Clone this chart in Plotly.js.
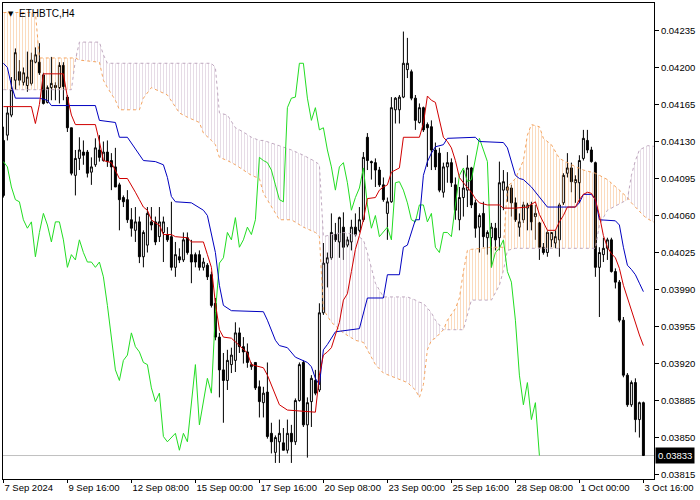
<!DOCTYPE html>
<html><head><meta charset="utf-8">
<script src="https://cdn.plot.ly/plotly-3.0.1.min.js"></script>
<style>html,body{margin:0;padding:0;background:#fff}#chart{width:700px;height:500px}</style>
</head><body><div id="chart"></div>
<script>
const symbolTitle = 'ETHBTC,H4';

const openP = [0.04131,0.04136,0.04155,0.04188,0.04196,0.04186,0.04183,0.04185,0.04205,0.04205,
0.04193,0.04167,0.04181,0.04183,0.04181,0.04202,0.04172,0.04143,0.04098,0.04114,
0.04120,0.04120,0.04101,0.04108,0.04122,0.04112,0.04120,0.04112,0.04106,0.04089,
0.04077,0.04075,0.04056,0.04046,0.04054,0.04021,0.04032,0.04054,0.04054,0.04040,
0.04044,0.04042,0.04040,0.04011,0.04021,0.04018,0.04039,0.04023,0.04023,0.04023,
0.04011,0.04013,0.04004,0.03977,0.03945,0.03914,0.03904,0.03919,0.03923,0.03949,
0.03936,0.03931,0.03917,0.03921,0.03898,0.03883,0.03893,0.03854,0.03836,0.03846,
0.03845,0.03838,0.03854,0.03846,0.03885,0.03921,0.03862,0.03884,0.03904,0.03895,
0.03968,0.04015,0.04020,0.04042,0.04035,0.04049,0.04032,0.04035,0.04049,0.04046,
0.04056,0.04134,0.04111,0.04110,0.04103,0.04089,0.04062,0.04073,0.04160,0.04160,
0.04172,0.04198,0.04196,0.04171,0.04148,0.04162,0.04146,0.04144,0.04122,0.04119,
0.04082,0.04106,0.04110,0.04089,0.04056,0.04077,0.04084,0.04105,0.04072,0.04049,
0.04062,0.04039,0.04039,0.04048,0.04039,0.04084,0.04087,0.04086,0.04072,0.04049,
0.04056,0.04067,0.04070,0.04059,0.04053,0.04030,0.04025,0.04037,0.04034,0.04037,
0.04072,0.04100,0.04105,0.04091,0.04091,0.04114,0.04131,0.04122,0.04110,0.04011,
0.04023,0.04029,0.04037,0.04007,0.03997,0.03961,0.03909,0.03881,0.03902,0.03867,
0.03883];

const highP = [0.04144,0.04163,0.04191,0.04218,0.04207,0.04200,0.04215,0.04214,0.04219,0.04223,
0.04195,0.04183,0.04210,0.04186,0.04205,0.04205,0.04174,0.04143,0.04122,0.04134,
0.04131,0.04122,0.04115,0.04133,0.04136,0.04130,0.04131,0.04119,0.04124,0.04091,
0.04079,0.04084,0.04067,0.04068,0.04059,0.04046,0.04068,0.04068,0.04059,0.04068,
0.04059,0.04049,0.04073,0.04035,0.04029,0.04044,0.04044,0.04037,0.04025,0.04027,
0.04020,0.04015,0.04007,0.03982,0.03949,0.03930,0.03933,0.03935,0.03959,0.03954,
0.03945,0.03939,0.03921,0.03921,0.03904,0.03898,0.03921,0.03864,0.03852,0.03867,
0.03859,0.03867,0.03862,0.03887,0.03921,0.03923,0.03888,0.03909,0.03914,0.03977,
0.04034,0.04025,0.04062,0.04053,0.04059,0.04063,0.04040,0.04056,0.04062,0.04068,
0.04120,0.04138,0.04112,0.04114,0.04106,0.04096,0.04077,0.04172,0.04172,0.04174,
0.04234,0.04228,0.04198,0.04174,0.04166,0.04163,0.04148,0.04150,0.04129,0.04124,
0.04110,0.04120,0.04114,0.04096,0.04087,0.04103,0.04117,0.04106,0.04075,0.04062,
0.04073,0.04046,0.04053,0.04053,0.04111,0.04103,0.04101,0.04089,0.04077,0.04062,
0.04073,0.04072,0.04073,0.04070,0.04054,0.04034,0.04046,0.04044,0.04046,0.04072,
0.04100,0.04119,0.04110,0.04098,0.04117,0.04141,0.04141,0.04125,0.04111,0.04030,
0.04039,0.04039,0.04039,0.04010,0.03999,0.03964,0.03911,0.03904,0.03906,0.03884,
0.03884];

const lowP = [0.04077,0.04131,0.04153,0.04179,0.04183,0.04183,0.04177,0.04183,0.04204,0.04193,
0.04165,0.04166,0.04169,0.04169,0.04166,0.04169,0.04139,0.04098,0.04079,0.04103,
0.04108,0.04096,0.04089,0.04106,0.04111,0.04111,0.04106,0.04084,0.04087,0.04046,
0.04068,0.04053,0.04040,0.04035,0.04015,0.04011,0.04025,0.04046,0.04032,0.04035,
0.04016,0.04035,0.04008,0.04002,0.04015,0.04016,0.04023,0.03996,0.04011,0.04008,
0.04008,0.03999,0.03973,0.03942,0.03888,0.03864,0.03895,0.03911,0.03912,0.03930,
0.03920,0.03916,0.03914,0.03895,0.03869,0.03869,0.03849,0.03835,0.03826,0.03826,
0.03838,0.03835,0.03826,0.03843,0.03884,0.03860,0.03831,0.03860,0.03890,0.03893,
0.03966,0.03992,0.04018,0.04035,0.04020,0.04018,0.04030,0.04027,0.04040,0.04044,
0.04054,0.04103,0.04094,0.04087,0.04087,0.04073,0.04037,0.04072,0.04147,0.04147,
0.04171,0.04190,0.04169,0.04141,0.04147,0.04139,0.04106,0.04103,0.04103,0.04082,
0.04077,0.04091,0.04087,0.04056,0.04046,0.04059,0.04068,0.04067,0.04039,0.04025,
0.04030,0.04023,0.04011,0.04027,0.04027,0.04065,0.04073,0.04059,0.04054,0.04040,
0.04053,0.04046,0.04046,0.04037,0.04018,0.04023,0.04021,0.04030,0.04029,0.04021,
0.04070,0.04096,0.04082,0.04072,0.04072,0.04112,0.04119,0.04110,0.04002,0.03964,
0.04016,0.04018,0.04006,0.03991,0.03959,0.03907,0.03879,0.03879,0.03855,0.03850,
0.03833];

const closeP = [0.04079,0.04157,0.04179,0.04214,0.04188,0.04195,0.04191,0.04207,0.04212,0.04195,
0.04166,0.04181,0.04185,0.04181,0.04202,0.04182,0.04143,0.04100,0.04114,0.04122,
0.04117,0.04100,0.04106,0.04124,0.04115,0.04120,0.04111,0.04106,0.04087,0.04075,
0.04073,0.04056,0.04048,0.04054,0.04021,0.04044,0.04062,0.04051,0.04035,0.04054,
0.04054,0.04037,0.04011,0.04023,0.04018,0.04037,0.04025,0.04016,0.04016,0.04011,
0.04016,0.04002,0.03975,0.03945,0.03914,0.03904,0.03923,0.03928,0.03949,0.03936,
0.03931,0.03921,0.03919,0.03897,0.03884,0.03892,0.03851,0.03846,0.03850,0.03854,
0.03838,0.03854,0.03846,0.03885,0.03919,0.03862,0.03883,0.03906,0.03892,0.03968,
0.04015,0.04020,0.04044,0.04037,0.04058,0.04030,0.04037,0.04049,0.04042,0.04056,
0.04115,0.04112,0.04110,0.04103,0.04089,0.04075,0.04073,0.04162,0.04171,0.04172,
0.04204,0.04204,0.04171,0.04150,0.04162,0.04141,0.04143,0.04122,0.04106,0.04084,
0.04106,0.04110,0.04091,0.04065,0.04077,0.04086,0.04105,0.04070,0.04048,0.04060,
0.04040,0.04044,0.04049,0.04037,0.04091,0.04092,0.04084,0.04072,0.04056,0.04054,
0.04070,0.04070,0.04054,0.04062,0.04030,0.04025,0.04044,0.04044,0.04040,0.04070,
0.04098,0.04105,0.04092,0.04094,0.04112,0.04133,0.04122,0.04111,0.04011,0.04025,
0.04029,0.04037,0.04007,0.03997,0.03961,0.03909,0.03881,0.03902,0.03867,0.03883,
0.03833];

// Tenkan-sen (red) read at bar indices
const tenkanBar = [0,7,8,9,10,15,16,17,18,23,24,25,27,28,29,31,32,33,34,35,36,37,38,39,40,42,43,46,47,50,51,52,53,54,55,57,59,61,62,65,66,67,69,71,78,79,80,81,82,83,84,85,86,87,88,89,90,91,93,94,95,96,97,99,100,104,105,106,107,108,109,110,111,112,113,114,115,116,117,118,119,121,124,125,128,131,133,134,135,136,138,139,140,141,143,144,145,146,147,148,149,150,151,152,153,154,155,156,157,158,159,160];
const tenkanVal = [0.04163,0.04163,0.04147,0.04165,0.04194,0.04194,0.04172,0.04155,0.04146,0.04146,0.04130,0.04112,0.04110,0.04103,0.04095,0.04095,0.04089,0.04082,0.04075,0.04068,0.04065,0.04056,0.04053,0.04051,0.04042,0.04042,0.04040,0.04039,0.04035,0.04035,0.04023,0.04011,0.03977,0.03952,0.03945,0.03944,0.03937,0.03930,0.03919,0.03916,0.03909,0.03900,0.03881,0.03876,0.03874,0.03909,0.03928,0.03931,0.03935,0.03947,0.03959,0.03980,0.03986,0.04007,0.04028,0.04041,0.04056,0.04076,0.04077,0.04084,0.04087,0.04089,0.04101,0.04105,0.04134,0.04134,0.04147,0.04173,0.04169,0.04167,0.04150,0.04134,0.04130,0.04124,0.04112,0.04096,0.04091,0.04087,0.04082,0.04076,0.04072,0.04070,0.04070,0.04067,0.04067,0.04068,0.04073,0.04061,0.04054,0.04046,0.04046,0.04054,0.04060,0.04068,0.04068,0.04075,0.04080,0.04082,0.04081,0.04075,0.04060,0.04041,0.04030,0.04024,0.04020,0.04010,0.03994,0.03982,0.03972,0.03959,0.03947,0.03937];

// Kijun-sen (blue)
const kijunBar = [0,1,2,3,9,11,12,23,24,28,29,31,35,38,40,41,42,43,47,50,51,52,53,54,55,57,65,66,67,68,69,71,73,76,77,78,79,80,81,82,83,89,90,91,95,96,99,100,101,102,103,104,105,106,107,108,110,111,118,119,125,126,127,128,129,130,132,134,135,136,143,144,145,147,148,149,153,154,155,156,157,158,159,160];
const kijunVal = [0.04204,0.04200,0.04183,0.04171,0.04171,0.04169,0.04164,0.04164,0.04150,0.04148,0.04134,0.04134,0.04112,0.04111,0.04108,0.04096,0.04078,0.04073,0.04072,0.04065,0.04060,0.04042,0.04025,0.03994,0.03975,0.03970,0.03969,0.03961,0.03952,0.03942,0.03937,0.03935,0.03926,0.03921,0.03917,0.03906,0.03900,0.03933,0.03938,0.03944,0.03950,0.03953,0.03968,0.03982,0.03982,0.04004,0.04004,0.04030,0.04032,0.04043,0.04056,0.04056,0.04098,0.04111,0.04119,0.04125,0.04127,0.04133,0.04134,0.04130,0.04129,0.04124,0.04111,0.04098,0.04095,0.04094,0.04087,0.04077,0.04072,0.04068,0.04068,0.04072,0.04080,0.04080,0.04075,0.04056,0.04055,0.04051,0.04030,0.04013,0.04009,0.04004,0.03996,0.03988];

// Chikou span = close shifted back by this many bars
const chikouShift = 26;

// Senkou spans (cloud) read at bar indices
const cloudBar = [0,8,9,17,18,19,24,25,26,28,29,34,35,37,41,44,46,49,50,52,53,54,56,58,60,62,64,65,69,72,75,78,79,80,82,85,88,90,91,93,95,101,103,104,105,106,107,108,110,111,113,114,115,116,117,122,124,125,126,128,130,131,132,134,135,137,139,142,145,148,149,151,154,156,157,158,159,160,161,162,163];
const senkouA = [0.04252,0.04252,0.04209,0.04209,0.04209,0.04207,0.04205,0.04188,0.04181,0.04169,0.04160,0.04160,0.04171,0.04181,0.04174,0.04157,0.04153,0.04148,0.04138,0.04131,0.04127,0.04115,0.04112,0.04108,0.04103,0.04098,0.04095,0.04081,0.04056,0.04056,0.04049,0.04044,0.04040,0.03971,0.03959,0.03949,0.03942,0.03940,0.03933,0.03919,0.03911,0.03902,0.03895,0.03888,0.03900,0.03933,0.03942,0.03944,0.03952,0.03961,0.03972,0.03982,0.04007,0.04027,0.04028,0.04030,0.04030,0.04030,0.04087,0.04095,0.04112,0.04136,0.04146,0.04144,0.04133,0.04127,0.04114,0.04108,0.04103,0.04100,0.04098,0.04094,0.04084,0.04077,0.04072,0.04068,0.04063,0.04060,0.04057,0.04055,0.04053];
const senkouB = [0.04179,0.04179,0.04179,0.04179,0.04207,0.04224,0.04224,0.04212,0.04204,0.04204,0.04204,0.04204,0.04204,0.04204,0.04204,0.04204,0.04204,0.04204,0.04204,0.04204,0.04200,0.04157,0.04155,0.04143,0.04139,0.04134,0.04131,0.04131,0.04126,0.04122,0.04117,0.04111,0.04108,0.04040,0.04042,0.04044,0.04042,0.04037,0.04025,0.03996,0.03983,0.03983,0.03980,0.03978,0.03977,0.03972,0.03968,0.03961,0.03952,0.03952,0.03952,0.03952,0.03952,0.03966,0.03980,0.03980,0.03994,0.04008,0.04027,0.04029,0.04029,0.04029,0.04029,0.04029,0.04029,0.04029,0.04029,0.04029,0.04029,0.04029,0.04051,0.04065,0.04071,0.04075,0.04098,0.04112,0.04122,0.04124,0.04126,0.04126,0.04125];

const timeTickBar = [0,16,32,48,64,80,96,112,128,144,160];
const timeTickText = ['7 Sep 2024','9 Sep 16:00','12 Sep 08:00','15 Sep 00:00','17 Sep 16:00','20 Sep 08:00','23 Sep 00:00','25 Sep 16:00','28 Sep 08:00','1 Oct 00:00','3 Oct 16:00'];
const priceTicks = [0.03815,0.03850,0.03885,0.03920,0.03955,0.03990,0.04025,0.04060,0.04095,0.04130,0.04165,0.04200,0.04235];

const n = closeP.length;
const bars = closeP.map((_, i) => i);
const lastClose = closeP[n - 1];
const chikouX = bars.slice(0, n - chikouShift);
const chikouY = closeP.slice(chikouShift);
const cloudTop = cloudBar.map((_, k) => Math.max(senkouA[k], senkouB[k]));

const font = 'Liberation Sans, Arial, sans-serif';
const SANDY = '#F4A460', THISTLE = '#BFA8BF';
const hid = {mode:'lines', line:{width:0, color:'rgba(0,0,0,0)'}, hoverinfo:'skip', showlegend:false};

const traces = [
  Object.assign({x: cloudBar, y: senkouB}, hid),
  Object.assign({x: cloudBar, y: cloudTop, fill:'tonexty', fillcolor:'rgba(0,0,0,0)',
    fillpattern:{shape:'|', fgcolor:SANDY, fgopacity:0.45, size:3, solidity:0.3}}, hid),
  Object.assign({x: cloudBar, y: senkouA}, hid),
  Object.assign({x: cloudBar, y: cloudTop, fill:'tonexty', fillcolor:'rgba(0,0,0,0)',
    fillpattern:{shape:'|', fgcolor:THISTLE, fgopacity:0.45, size:3, solidity:0.3}}, hid),
  {x: cloudBar, y: senkouA, mode:'lines', line:{color:SANDY, width:1, dash:'dot'}, hoverinfo:'skip'},
  {x: cloudBar, y: senkouB, mode:'lines', line:{color:THISTLE, width:1, dash:'dot'}, hoverinfo:'skip'},
  {type:'candlestick', x: bars, open: openP, high: highP, low: lowP, close: closeP,
    increasing:{line:{color:'#000', width:1}, fillcolor:'#fff'},
    decreasing:{line:{color:'#000', width:1}, fillcolor:'#000'},
    whiskerwidth:0, hoverinfo:'skip'},
  {x: chikouX, y: chikouY, mode:'lines', line:{color:'#22DD22', width:1}, hoverinfo:'skip'},
  {x: kijunBar, y: kijunVal, mode:'lines', line:{color:'#0000C0', width:1}, hoverinfo:'skip'},
  {x: tenkanBar, y: tenkanVal, mode:'lines', line:{color:'#D00000', width:1}, hoverinfo:'skip'}
];

const layout = {
  width:700, height:500,
  margin:{l:3, r:46, t:3, b:21},
  paper_bgcolor:'#fff', plot_bgcolor:'#fff',
  showlegend:false, hovermode:false,
  font:{family:font, size:9.5, color:'#000'},
  xaxis:{range:[-0.1, 162.65], showgrid:false, zeroline:false, showline:true, mirror:true,
    linecolor:'#000', linewidth:1, ticks:'outside', ticklen:3, tickcolor:'#000',
    tickmode:'array', tickvals:timeTickBar, ticktext:timeTickText, tickangle:0,
    ticklabelposition:'outside right', tickfont:{family:font, size:9.5, color:'#000'},
    rangeslider:{visible:false}, fixedrange:true},
  yaxis:{side:'right', range:[0.038108, 0.04261], showgrid:false, zeroline:false, showline:true, mirror:true,
    linecolor:'#000', linewidth:1, ticks:'outside', ticklen:4, tickcolor:'#000',
    tickmode:'array', tickvals:priceTicks, ticktext:priceTicks.map(v => v.toFixed(5)),
    tickfont:{family:font, size:9.5, color:'#000'}, fixedrange:true},
  shapes:[{type:'line', xref:'paper', x0:0, x1:1, yref:'y', y0:lastClose, y1:lastClose,
    line:{color:'#C0C0C0', width:1}, layer:'below'}],
  annotations:[
    {xref:'paper', yref:'paper', x:0, y:1, xanchor:'left', yanchor:'top', xshift:3, yshift:-5,
      text:'▼', showarrow:false, font:{family:'DejaVu Sans', size:7, color:'#000'}},
    {xref:'paper', yref:'paper', x:0, y:1, xanchor:'left', yanchor:'top', xshift:14, yshift:-3,
      text:symbolTitle, showarrow:false, font:{family:font, size:10, color:'#000'}},
    {xref:'paper', yref:'y', x:1, y:lastClose, xanchor:'left', yanchor:'middle', xshift:1,
      text:lastClose.toFixed(5), showarrow:false, bgcolor:'#000', borderpad:2,
      font:{family:font, size:9.5, color:'#fff'}}
  ]
};

Plotly.newPlot('chart', traces, layout, {staticPlot:true, displayModeBar:false});
</script>
</body></html>
